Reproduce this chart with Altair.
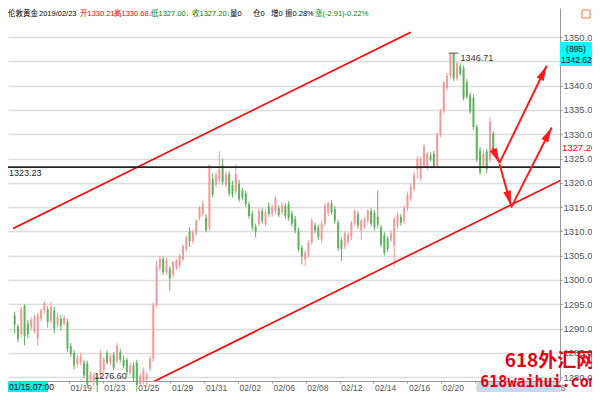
import math
import altair as alt
import pandas as pd

# ---------------- data ----------------
open_ = [1292.7, 1290.4, 1288.8, 1294.7, 1291.0, 1290.2, 1289.4, 1288.0, 1292.0, 1293.7,
         1294.0, 1291.6, 1293.7, 1290.8, 1292.0, 1291.0, 1291.4, 1286.4,
         1285.0, 1282.7, 1283.0, 1283.0, 1282.8, 1279.5, 1279.0, 1280.0, 1280.4, 1281.5,
         1285.0, 1283.0, 1284.6, 1283.4, 1285.2, 1283.5, 1283.5, 1281.0, 1282.4, 1283.0,
         1278.6, 1279.0, 1279.5, 1281.8, 1283.8, 1294.9,
         1302.4, 1304.3, 1301.6, 1302.3, 1301.0, 1302.5, 1303.0, 1304.3, 1306.3, 1310.0,
         1308.0, 1309.6, 1312.8, 1313.6, 1312.8,
         1310.8, 1320.8, 1319.6, 1320.6, 1323.6, 1319.6, 1321.8, 1319.6, 1318.2, 1319.8,
         1318.4, 1317.8, 1315.6, 1313.6, 1311.0,
         1311.6, 1314.2, 1311.5, 1315.2, 1313.6, 1314.2, 1314.8, 1314.0, 1315.2, 1315.6,
         1313.6, 1312.6, 1310.2, 1306.6, 1304.3,
         1305.2, 1307.7, 1311.2, 1310.8, 1308.2, 1311.6, 1313.8, 1315.8, 1314.6, 1311.8,
         1308.2, 1306.9, 1307.8, 1308.8, 1311.6, 1313.6, 1310.2, 1311.0, 1312.2, 1314.2,
         1313.8, 1313.0, 1310.8, 1309.2, 1308.5, 1308.3, 1307.0, 1311.2, 1313.0, 1312.2,
         1314.8, 1316.8, 1318.8, 1322.8, 1321.0, 1323.5, 1323.2, 1325.6, 1326.0, 1323.5,
         1330.0, 1334.7, 1339.5, 1342.0, 1346.7, 1341.5, 1344.0, 1343.6, 1340.7, 1338.0,
         1337.5, 1331.5, 1326.7, 1323.5, 1326.5, 1324.8, 1330.21]
high_ = [1293.5, 1291.0, 1294.5, 1295.0, 1291.8, 1292.3, 1292.8, 1293.2, 1294.2, 1295.6,
         1294.6, 1295.5, 1294.5, 1293.2, 1292.8, 1292.8, 1292.0, 1287.0,
         1285.6, 1284.6, 1285.0, 1283.6, 1283.4, 1281.2, 1281.0, 1280.8, 1285.6, 1284.2,
         1285.6, 1284.8, 1285.2, 1287.0, 1285.8, 1284.4, 1284.0, 1283.0, 1283.0, 1283.6,
         1280.8, 1282.0, 1281.0, 1284.4, 1295.4, 1304.0,
         1305.0, 1304.8, 1304.6, 1302.8, 1304.0, 1304.4, 1305.4, 1307.4, 1309.2, 1310.8,
         1310.4, 1312.6, 1315.2, 1316.4, 1313.6,
         1323.8, 1322.0, 1322.2, 1326.5, 1325.0, 1322.4, 1322.4, 1320.4, 1323.8, 1320.6,
         1319.0, 1318.4, 1316.2, 1314.2, 1311.6,
         1314.8, 1314.8, 1314.6, 1316.0, 1315.6, 1317.4, 1315.4, 1316.0, 1315.8, 1316.2,
         1314.2, 1313.2, 1310.8, 1307.2, 1306.2,
         1308.2, 1312.8, 1311.8, 1311.4, 1312.2, 1315.8, 1316.2, 1316.4, 1315.2, 1312.4,
         1308.8, 1310.0, 1309.8, 1312.2, 1314.6, 1314.2, 1312.6, 1313.0, 1314.6, 1314.8,
         1314.4, 1318.4, 1311.4, 1309.8, 1309.0, 1310.2, 1313.0, 1314.0, 1313.6, 1315.4,
         1318.2, 1319.8, 1322.2, 1325.6, 1325.4, 1328.0, 1326.4, 1326.2, 1326.6, 1330.4,
         1335.2, 1341.0, 1342.6, 1346.7, 1346.71, 1345.0, 1344.6, 1344.2, 1341.4, 1338.6,
         1338.2, 1332.0, 1327.4, 1326.6, 1327.0, 1333.5, 1330.68]
low_ = [1289.0, 1287.2, 1288.2, 1286.6, 1288.0, 1289.6, 1289.0, 1286.5, 1291.4, 1293.0,
        1290.2, 1291.0, 1289.0, 1290.2, 1289.6, 1290.6, 1285.2, 1284.2,
        1281.6, 1282.0, 1282.4, 1279.8, 1277.8, 1278.8, 1278.2, 1276.6, 1279.8, 1280.8,
        1282.6, 1282.4, 1281.4, 1282.8, 1283.0, 1281.8, 1280.4, 1280.4, 1279.2, 1277.0,
        1278.0, 1278.4, 1278.0, 1281.2, 1283.2, 1294.4,
        1301.8, 1301.0, 1301.0, 1297.7, 1300.4, 1302.0, 1302.4, 1303.8, 1305.8, 1306.8,
        1307.4, 1309.0, 1312.2, 1313.0, 1309.8,
        1310.2, 1317.0, 1319.0, 1320.0, 1319.6, 1319.0, 1317.2, 1317.0, 1317.6, 1316.0,
        1316.4, 1315.0, 1312.6, 1310.2, 1308.8,
        1311.0, 1311.6, 1311.0, 1313.0, 1313.0, 1313.6, 1313.0, 1313.4, 1312.6, 1312.2,
        1311.0, 1309.6, 1305.8, 1303.2, 1302.9,
        1304.6, 1307.2, 1309.6, 1308.2, 1307.6, 1311.0, 1313.2, 1313.4, 1311.6, 1306.0,
        1303.9, 1306.4, 1307.2, 1308.2, 1311.0, 1310.6, 1308.2, 1310.4, 1311.6, 1311.0,
        1310.2, 1310.6, 1306.8, 1305.0, 1305.8, 1307.8, 1302.7, 1310.6, 1311.2, 1311.6,
        1314.2, 1316.2, 1318.2, 1320.8, 1320.4, 1323.0, 1322.6, 1324.4, 1323.0, 1323.0,
        1329.4, 1334.2, 1339.0, 1341.4, 1341.0, 1341.0, 1342.0, 1337.0, 1337.2, 1334.2,
        1331.0, 1324.2, 1321.6, 1323.0, 1322.0, 1324.2, 1327.00]
close_ = [1290.8, 1287.8, 1294.0, 1288.4, 1288.8, 1291.8, 1292.3, 1292.7, 1293.7, 1295.3,
          1291.4, 1294.5, 1290.0, 1292.5, 1290.5, 1292.2, 1285.8, 1284.8,
          1282.4, 1284.0, 1284.4, 1280.4, 1278.4, 1280.8, 1280.4, 1278.4, 1284.8, 1283.7,
          1283.0, 1284.2, 1282.0, 1286.4, 1283.6, 1282.3, 1281.0, 1282.4, 1279.8, 1278.4,
          1280.2, 1281.4, 1280.5, 1283.8, 1294.9, 1302.9,
          1304.3, 1301.6, 1304.0, 1300.3, 1303.7, 1304.0, 1305.0, 1307.0, 1308.8, 1308.0,
          1309.8, 1312.2, 1314.8, 1315.6, 1310.2,
          1323.6, 1317.6, 1321.6, 1322.8, 1320.2, 1321.8, 1317.8, 1317.6, 1321.8, 1316.6,
          1317.0, 1315.6, 1313.2, 1310.8, 1310.0,
          1314.2, 1312.2, 1314.0, 1313.6, 1315.0, 1316.8, 1313.4, 1315.4, 1313.2, 1312.8,
          1311.6, 1310.2, 1306.3, 1304.8, 1305.6,
          1307.7, 1312.2, 1310.2, 1308.8, 1311.6, 1315.2, 1315.8, 1313.9, 1312.2, 1306.6,
          1306.3, 1309.6, 1309.3, 1311.8, 1314.2, 1311.2, 1312.2, 1312.5, 1314.2, 1311.6,
          1310.8, 1311.4, 1307.3, 1305.6, 1306.4, 1309.6, 1312.6, 1313.4, 1311.8, 1314.8,
          1317.6, 1319.2, 1321.6, 1325.0, 1324.8, 1327.5, 1326.0, 1324.8, 1323.5, 1330.0,
          1334.7, 1340.7, 1342.0, 1346.6, 1341.5, 1344.6, 1342.5, 1337.5, 1337.7, 1334.7,
          1331.5, 1324.8, 1322.2, 1326.0, 1322.8, 1332.6, 1327.20]

tick_idx = [16.5, 26.7, 37.0, 47.2, 57.5, 67.7, 78.0, 88.2, 98.5, 108.7, 119.0, 129.2,
            139.5, 149.7, 160.0]
tick_lbl = ["01/19", "01/23", "01/25", "01/29", "01/31", "02/02", "02/06", "02/08",
            "02/12", "02/14", "02/16", "02/20", "02/22", "02/24", "02/26"]
price_ticks = [1280, 1285, 1290, 1295, 1300, 1305, 1310, 1315, 1320, 1325,
               1330, 1335, 1340, 1345, 1350]

level_price = 1323.23
upper_i = [-0.5, 120.0]
upper_p = [1310.6, 1351.0]
lower_i = [41.9, 166.2]
lower_p = [1279.0, 1320.8]
arrow_from_i = [144.8, 146.9, 150.4, 146.9]
arrow_from_p = [1327.2, 1323.9, 1314.9, 1324.1]
arrow_to_i = [146.9, 150.4, 162.7, 161.2]
arrow_to_p = [1324.1, 1315.3, 1331.4, 1344.1]
peak_i = 132
peak_price = 1346.71
low_label_i = 23.8
low_label = "1276.60"
last_close = 1327.20
cursor_lines = ["(895)", "1342.62"]
start_label = "01/15,07:00"

header_parts = ["伦敦黄金", "2019/02/23", "开1330.21↑", "高1330.68↓", "低1327.00↓",
                "收1327.20↓", "量0", "仓0", "增0", "振0.28%", "涨(-2.91)-0.22%"]
header_colors = ["#000000", "#000000", "#ff0000", "#ff0000", "#008000",
                 "#008000", "#000000", "#000000", "#000000", "#000000", "#008000"]
header_x = [0, 31, 72, 106, 143, 184, 222, 245, 263, 277, 307]

# ---------------- layout ----------------
W, H = 552, 373
XMIN, XMAX = -0.5, 163.7
YMIN, YMAX = 1279.2, 1356.0
xs = alt.Scale(domain=[XMIN, XMAX], nice=False, zero=False)
ys = alt.Scale(domain=[YMIN, YMAX], nice=False, zero=False)
FONT = "Liberation Sans, Noto Sans CJK SC"

lbl_js = "[" + ",".join("'%s'" % t for t in tick_lbl) + "]"
step = (tick_idx[-1] - tick_idx[0]) / (len(tick_idx) - 1)
xaxis = alt.Axis(values=tick_idx,
                 labelExpr="%s[round((datum.value-%s)/%s)]" % (lbl_js, tick_idx[0], step),
                 labelAlign="left", labelBaseline="top", labelColor="#555",
                 labelFontSize=8.5, labelFont=FONT, labelPadding=0, labelOffset=1,
                 tickSize=2, tickColor="#999", domainColor="#999", grid=False,
                 title=None, labelOverlap=False, labelFlush=False)
yaxis = alt.Axis(orient="right", values=price_ticks, format=".2f", labelColor="#555",
                 labelFontSize=9.5, labelFont=FONT, labelPadding=1, tickSize=2,
                 tickColor="#888", domainColor="#999", gridColor="#dcdcdc",
                 gridWidth=1.5, title=None)

df = pd.DataFrame({"i": list(range(len(close_))), "o": open_, "h": high_,
                   "l": low_, "c": close_})
df["dir"] = ["up" if c >= o else "down" for o, c in zip(open_, close_)]

wick = alt.Chart(df).mark_rule(strokeWidth=1).encode(
    x=alt.X("i:Q", scale=xs, axis=xaxis),
    y=alt.Y("l:Q", scale=ys, axis=yaxis),
    y2="h:Q",
    color=alt.Color("dir:N", scale=alt.Scale(domain=["up", "down"],
                                             range=["#f39a9a", "#5fb35f"]), legend=None),
)
body = alt.Chart(df).mark_bar(width=2).encode(
    x=alt.X("i:Q", scale=xs, axis=xaxis),
    y=alt.Y("o:Q", scale=ys, axis=yaxis),
    y2="c:Q",
    color=alt.Color("dir:N", scale=alt.Scale(domain=["up", "down"],
                                             range=["#f06a6a", "#1b871b"]), legend=None),
)


def seg(xi, yp, color, width):
    d = pd.DataFrame({"i": xi, "p": yp})
    return alt.Chart(d).mark_line(color=color, strokeWidth=width, clip=True).encode(
        x=alt.X("i:Q", scale=xs, axis=xaxis), y=alt.Y("p:Q", scale=ys, axis=yaxis))


upper = seg(upper_i, upper_p, "#ff0000", 1.6)
lower = seg(lower_i, lower_p, "#ff0000", 1.6)

level = alt.Chart(pd.DataFrame({"p": [level_price]})).mark_rule(
    color="#222", strokeWidth=1.6).encode(y=alt.Y("p:Q", scale=ys, axis=yaxis))
level_txt = alt.Chart(pd.DataFrame({"p": [level_price], "t": ["%.2f" % level_price]})).mark_text(
    align="left", baseline="top", dy=2, fontSize=9, font=FONT, color="#222").encode(
    x=alt.value(1), y=alt.Y("p:Q", scale=ys, axis=yaxis), text="t:N")

# arrows
sx = W / (XMAX - XMIN)
sy = H / (YMAX - YMIN)
angles = []
for fi, fp, ti, tp in zip(arrow_from_i, arrow_from_p, arrow_to_i, arrow_to_p):
    dx = (ti - fi) * sx
    dy = -(tp - fp) * sy
    angles.append(math.degrees(math.atan2(dx, -dy)) % 360)
adf = pd.DataFrame({"i": arrow_from_i, "p": arrow_from_p, "i2": arrow_to_i,
                    "p2": arrow_to_p, "ang": angles})
arrow_lines = alt.Chart(adf).mark_rule(color="#ff1a1a", strokeWidth=2).encode(
    x=alt.X("i:Q", scale=xs, axis=xaxis), y=alt.Y("p:Q", scale=ys, axis=yaxis),
    x2="i2:Q", y2="p2:Q")
arrow_heads = alt.Chart(adf).mark_point(
    shape="M0,0L0.26,1L-0.26,1Z", filled=True, opacity=1, color="#ff1a1a",
    size=900, strokeWidth=0).encode(
    x=alt.X("i2:Q", scale=xs, axis=xaxis), y=alt.Y("p2:Q", scale=ys, axis=yaxis),
    angle=alt.Angle("ang:Q", scale=None))

# peak / low annotations
peak_df = pd.DataFrame({"i": [peak_i - 0.5], "i2": [peak_i + 2.5], "p": [peak_price],
                        "t": ["%.2f" % peak_price]})
peak_rule = alt.Chart(peak_df).mark_rule(color="#555", strokeWidth=1).encode(
    x=alt.X("i:Q", scale=xs, axis=xaxis), x2="i2:Q", y=alt.Y("p:Q", scale=ys, axis=yaxis))
peak_txt = alt.Chart(peak_df).mark_text(align="left", baseline="top", dx=2, dy=1,
                                         fontSize=9, font=FONT, color="#333").encode(
    x=alt.X("i2:Q", scale=xs, axis=xaxis), y=alt.Y("p:Q", scale=ys, axis=yaxis), text="t:N")
low_txt = alt.Chart(pd.DataFrame({"i": [low_label_i], "t": [low_label]})).mark_text(
    align="left", baseline="middle", dx=1, fontSize=9, font=FONT, color="#333").encode(
    x=alt.X("i:Q", scale=xs, axis=xaxis), y=alt.value(H - 5), text="t:N")

last_txt = alt.Chart(pd.DataFrame({"p": [last_close], "t": ["%.2f" % last_close]})).mark_text(
    align="left", baseline="middle", fontSize=9.5, font=FONT, color="#ff0000").encode(
    x=alt.value(W + 2), y=alt.Y("p:Q", scale=ys, axis=yaxis), text="t:N")

one = pd.DataFrame({"a": [0]})


def box(x1, x2, y1, y2, fill, stroke=None):
    kw = dict(fill=fill)
    if stroke:
        kw.update(stroke=stroke, strokeWidth=1)
    return alt.Chart(one).mark_rect(**kw).encode(
        x=alt.value(x1), x2=alt.value(x2), y=alt.value(y1), y2=alt.value(y2))


def txt(s, x, y, **kw):
    return alt.Chart(pd.DataFrame({"t": [s]})).mark_text(**kw).encode(
        x=alt.value(x), y=alt.value(y), text="t:N")


layers = [
    box(469, W, H + 1, H + 11, "#c6daf2"),
    box(0, 40, H + 1, H + 11, "#00f0f0"),
    wick, body, upper, lower, level, level_txt,
    arrow_lines, arrow_heads, peak_rule, peak_txt, low_txt, last_txt,
    box(W, W + 32, 34, 58, "#00ffff"),
    txt(cursor_lines[0], W + 16, 41, align="center", baseline="middle", fontSize=8.5, font=FONT, color="#000"),
    txt(cursor_lines[1], W + 1, 52, align="left", baseline="middle", fontSize=8.5, font=FONT, color="#000"),
    txt(start_label, 1, H + 6, align="left", baseline="middle", fontSize=8.5, font=FONT, color="#000"),
    box(574, 582, 2, 10, "#ffffff", stroke="#f07830"),
    txt("618外汇网", 542, 353, align="center", baseline="middle", fontSize=19,
        fontWeight="bold", font="Noto Sans CJK SC", color="#e60012"),
    txt("618waihui.com", 531, 374, align="center", baseline="middle", fontSize=15,
        fontWeight="bold", font="DejaVu Sans Mono", color="#e60012"),
]
for s, c, x in zip(header_parts, header_colors, header_x):
    layers.append(txt(s, x, 5.5, align="left", baseline="middle", fontSize=7.5, font=FONT, color=c))

chart = alt.layer(*layers).properties(
    width=W, height=H,
    autosize=alt.AutoSizeParams(type="none"),
    padding={"left": 0, "top": 0, "right": 32, "bottom": 11},
).configure_view(strokeWidth=0)

chart.save("out.html", embed_options={"renderer": "svg", "actions": False})
